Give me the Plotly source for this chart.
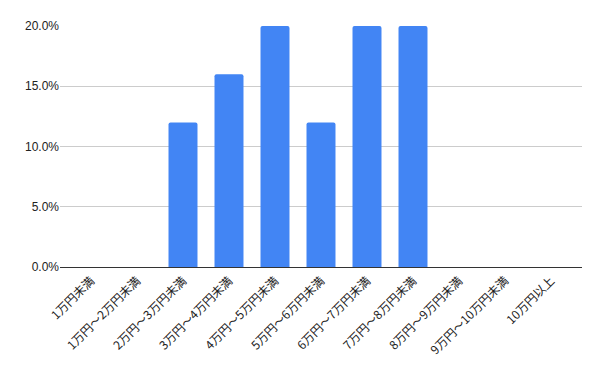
import plotly.graph_objects as go

categories = ["1万円未満", "1万円～2万円未満", "2万円～3万円未満", "3万円～4万円未満",
              "4万円～5万円未満", "5万円～6万円未満", "6万円～7万円未満", "7万円～8万円未満",
              "8万円～9万円未満", "9万円～10万円未満", "10万円以上"]
values = [0.0, 0.0, 0.12, 0.16, 0.20, 0.12, 0.20, 0.20, 0.0, 0.0, 0.0]
y_ticks = [0.0, 0.05, 0.10, 0.15, 0.20]
y_tick_labels = ["0.0%", "5.0%", "10.0%", "15.0%", "20.0%"]

fig = go.Figure(go.Bar(x=list(range(len(categories))), y=values,
                       marker=dict(color="#4285F4", line=dict(width=0)),
                       width=0.63))
fig.update_layout(
    width=600, height=371,
    margin=dict(l=60, r=18, t=26, b=104),
    paper_bgcolor="white", plot_bgcolor="white",
    font=dict(family="Liberation Sans, Arial, sans-serif", color="#222"),
    barcornerradius=2,
    showlegend=False,
    xaxis=dict(tickmode="array", tickvals=list(range(len(categories))), ticktext=categories,
               tickangle=-45, range=[-0.674, 10.674], showgrid=False,
               showline=True, linecolor="#333", linewidth=1, automargin=False,
               tickfont=dict(size=12, family="Noto Sans CJK JP, Liberation Sans, sans-serif", color="#222"),
               ticks="", ticklabelstandoff=1, zeroline=False),
    yaxis=dict(tickmode="array", tickvals=y_ticks, ticktext=y_tick_labels,
               range=[0, 0.2], showgrid=True, gridcolor="#cccccc", gridwidth=1,
               zeroline=False, ticks="", ticklen=0, automargin=False,
               tickfont=dict(size=12, color="#222")),
)
fig.write_html("out.html")
